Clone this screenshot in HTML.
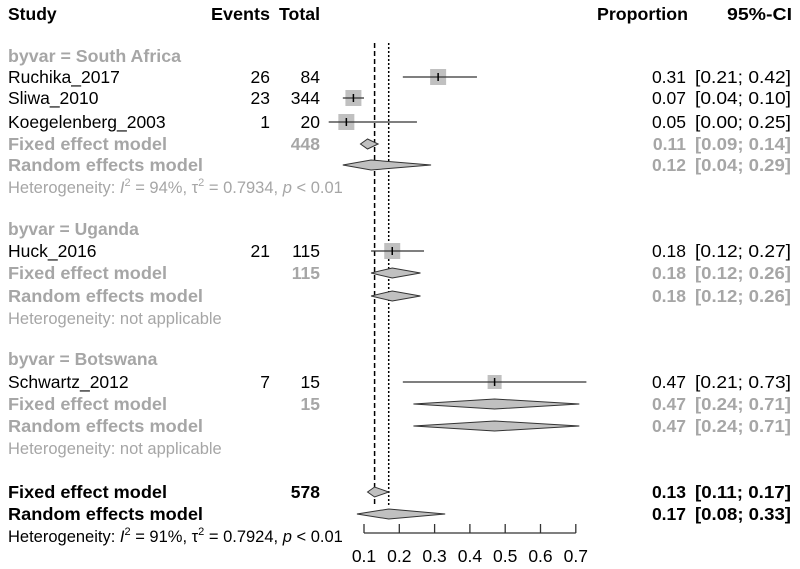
<!DOCTYPE html>
<html><head><meta charset="utf-8"><style>
body{margin:0;background:#fff;width:800px;height:569px;overflow:hidden;font-family:"Liberation Sans",Arial,sans-serif}
svg{display:block}
text{font-size:17.5px;font-family:"Liberation Sans",Arial,sans-serif}
.b{font-weight:bold;font-size:17.5px}.g{fill:#a6a6a6}.sm{font-size:16.5px}
</style></head><body>
<svg id="c" width="800" height="569"></svg>
<script>
const studies=["Ruchika_2017","Sliwa_2010","Koegelenberg_2003","Huck_2016","Schwartz_2012"];
const events=[26,23,1,21,7];
const totals=[84,344,20,115,15];
const props=[0.31,0.07,0.05,0.18,0.47];
const lows=[0.21,0.04,0.00,0.12,0.21];
const highs=[0.42,0.10,0.25,0.27,0.73];
const studyRows=[77,98,122,251,382];
const sumLabels=["Fixed effect model","Random effects model","Fixed effect model","Random effects model","Fixed effect model","Random effects model","Fixed effect model","Random effects model"];
const sumTotals=["448","","115","","15","","578",""];
const sumEst=[0.11,0.12,0.18,0.18,0.47,0.47,0.13,0.17];
const sumLow=[0.09,0.04,0.12,0.12,0.24,0.24,0.11,0.08];
const sumHigh=[0.14,0.29,0.26,0.26,0.71,0.71,0.17,0.33];
const sumRows=[144,165,273,296,404,426,492,514];
const ticks=[0.1,0.2,0.3,0.4,0.5,0.6,0.7];
const fixedLine=0.13, randomLine=0.17;
const NS="http://www.w3.org/2000/svg", svg=document.getElementById('c');
const X=v=>364+(v-0.1)*353;
function el(t,a,txt){const e=document.createElementNS(NS,t);for(const k in a)e.setAttribute(k,a[k]);if(txt!==undefined)e.textContent=txt;svg.appendChild(e);return e;}
function tx(x,y,s,cls,anchor,name,len){const e=el('text',{x:x,y:y+6,'class':cls||'','text-anchor':anchor||'start'},s);
if(len){e.setAttribute('textLength',len);e.setAttribute('lengthAdjust','spacingAndGlyphs');}

return e;}
const f=v=>v.toFixed(2);
tx(8,14,"Study","b","start","header-study");
tx(270,14,"Events","b","end","header-events",59);
tx(320,14,"Total","b","end","header-total",41);
tx(688,14,"Proportion","b","end","header-proportion",91);
tx(792,14,"95%-CI","b","end","header-ci",65);
tx(8,56,"byvar = South Africa","b g","start","subgroup-south-africa",173);
tx(8,229,"byvar = Uganda","b g","start","subgroup-uganda");
tx(8,359,"byvar = Botswana","b g","start","subgroup-botswana");
function het(y,txt,cls,name){const e=tx(8,y,"","sm "+cls,"start",name);e.innerHTML=txt;}
const HT=(i,t,p)=>'Heterogeneity: <tspan font-style="italic">I</tspan><tspan dy="-7" font-size="11">2</tspan><tspan dy="7"> = '+i+', τ</tspan><tspan dy="-7" font-size="11">2</tspan><tspan dy="7"> = '+t+', </tspan><tspan font-style="italic">p</tspan> &lt; '+p;
het(187,HT("94%","0.7934","0.01"),"g","heterogeneity-south-africa");
het(318,"Heterogeneity: not applicable","g","heterogeneity-uganda");
het(448,"Heterogeneity: not applicable","g","heterogeneity-botswana");
het(536,HT("91%","0.7924","0.01"),"","heterogeneity-overall");
const l1=el('line',{x1:X(fixedLine),x2:X(fixedLine),y1:43,y2:505,stroke:'#000','stroke-width':1.5,'stroke-dasharray':'5,3'});


const l2=el('line',{x1:X(randomLine),x2:X(randomLine),y1:43,y2:505,stroke:'#000','stroke-width':1.5,'stroke-dasharray':'2,2'});


studies.forEach((s,i)=>{const y=studyRows[i];
tx(8,y,s,"","start","study-label");
tx(270,y,String(events[i]),"","end","study-events");
tx(320,y,String(totals[i]),"","end","study-total");
tx(686,y,f(props[i]),"","end","study-proportion");
tx(695,y,"["+f(lows[i])+"; "+f(highs[i])+"]","","start","study-ci",96);
const sz=i==4?14:16;
const r=el('rect',{x:X(props[i])-sz/2,y:y-sz/2,width:sz,height:sz,fill:'#c0c0c0'});


const ln=el('line',{x1:X(lows[i]),x2:X(highs[i]),y1:y,y2:y,stroke:'#333','stroke-width':1.3});


const tk=el('line',{x1:X(props[i]),x2:X(props[i]),y1:y-4,y2:y+4,stroke:'#000','stroke-width':1.5});


});
sumLabels.forEach((s,i)=>{const y=sumRows[i],ov=i>=6,cls=ov?"b":"b g";
tx(8,y,s,cls,"start","summary-label",i%2?195:159);
if(sumTotals[i])tx(320,y,sumTotals[i],cls,"end","summary-total");
tx(686,y,f(sumEst[i]),cls,"end","summary-proportion");
tx(695,y,"["+f(sumLow[i])+"; "+f(sumHigh[i])+"]",cls,"start","summary-ci",96);
const d=el('polygon',{points:`${X(sumLow[i])},${y} ${X(sumEst[i])},${y-5} ${X(sumHigh[i])},${y} ${X(sumEst[i])},${y+5}`,fill:'#c0c0c0',stroke:'#333','stroke-width':1});


});
const ax=el('line',{x1:X(ticks[0]),x2:X(ticks[ticks.length-1]),y1:533,y2:533,stroke:'#333','stroke-width':1.3});


ticks.forEach(t=>{const k=el('line',{x1:X(t),x2:X(t),y1:524,y2:533,stroke:'#333','stroke-width':1.3});


tx(X(t),556,String(t),"","middle","x-tick-label");});
</script>
</body></html>
